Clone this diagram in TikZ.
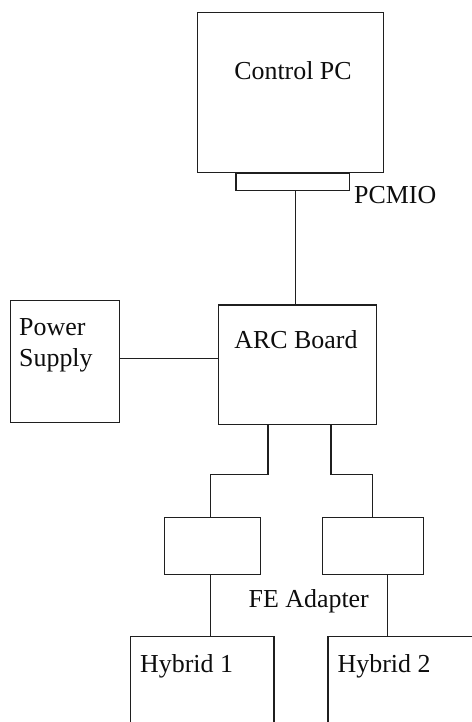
\documentclass[tikz,border=0pt]{standalone}
\usepackage{fontspec}
\setmainfont{Liberation Serif}
\begin{document}
\begin{tikzpicture}[x=1bp,y=-1bp,
  box/.style={draw=black!88,line width=1.3bp,inner sep=0pt,fill=white},
  wire/.style={draw=black!88,line width=1.3bp},
  lbl/.style={font=\fontsize{26}{31.7}\selectfont,text=black!95,inner sep=0pt}]
\useasboundingbox (0,0) rectangle (472,722);
\clip (0,0) rectangle (472,722);
\fill[white] (0,0) rectangle (472,722);
% boxes
\node[box,minimum width=186bp,minimum height=160.4bp] (pc) at (290.3,92.5) {};
\node[box,minimum width=113.3bp,minimum height=17.3bp,anchor=north] (pcmio) at (292.7,172.7) {};
\node[box,minimum width=108.6bp,minimum height=122bp] (ps) at (65,361.7) {};
\node[box,minimum width=158.4bp,minimum height=119.3bp] (arc) at (297.5,364.65) {};
\node[box,minimum width=96.4bp,minimum height=56.6bp] (fe1) at (212.5,546) {};
\node[box,minimum width=100.6bp,minimum height=56.6bp] (fe2) at (373,546) {};
\node[box,minimum width=143.3bp,minimum height=110bp,anchor=north west] (h1) at (130,636) {};
\node[box,minimum width=160bp,minimum height=110bp,anchor=north west] (h2) at (327.3,636) {};
% helper coordinates
\coordinate (lx) at (295.7,0);
\coordinate (ly) at (0,358.7);
\coordinate (a1) at (268,0);
\coordinate (a2) at (331,0);
\coordinate (m1) at (0,474.3);
\coordinate (b1) at (210.5,0);
\coordinate (b2) at (387.3,0);
\coordinate (t2) at (372.3,0);
% connectors
\draw[wire] (pcmio.south -| lx) -- (arc.north -| lx);
\draw[wire] (ps.east |- ly) -- (arc.west |- ly);
\draw[wire] (arc.south -| a1) -- (a1 |- m1) -| (fe1.north -| b1);
\draw[wire] (arc.south -| a2) -- (a2 |- m1) -| (fe2.north -| t2);
\draw[wire] (fe1.south -| b1) -- (h1.north -| b1);
\draw[wire] (fe2.south -| b2) -- (h2.north -| b2);
% labels
\node[lbl,anchor=base] (tpc) at (293,80) {Control PC};
\node[lbl,anchor=base west] (tpcmio) at (354,203) {PCMIO};
\node[lbl,anchor=base west] (tps1) at (19,335) {Power};
\node[lbl,anchor=base west] (tps2) at (19,366.7) {Supply};
\node[lbl,anchor=base] (tarc) at (296,348) {ARC Board};
\node[lbl,anchor=base west] (tfe) at (248.5,607.3) {FE Adapter};
\node[lbl,anchor=base west] (th1) at (140,672.7) {Hybrid 1};
\node[lbl,anchor=base west] (th2) at (337.5,672.7) {Hybrid 2};
\end{tikzpicture}
\end{document}
